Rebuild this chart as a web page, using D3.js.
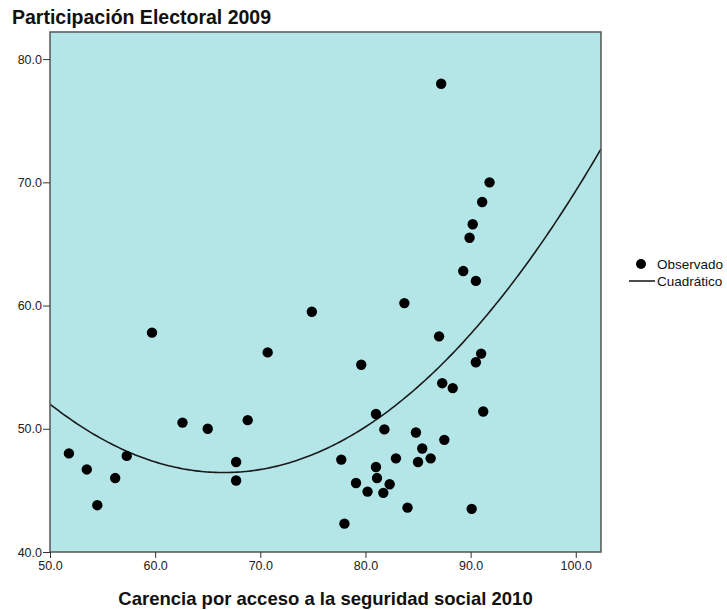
<!DOCTYPE html>
<html><head><meta charset="utf-8">
<script src="https://cdn.jsdelivr.net/npm/d3@7"></script>
<style>body{margin:0;background:#fff}svg{display:block}</style>
</head><body>
<svg id="chart" width="727" height="610"></svg>
<script>
const xValues = [51.8,53.5,54.5,56.2,57.3,59.7,62.6,65.0,67.7,67.7,68.8,70.7,74.9,77.7,78.0,79.1,79.6,80.2,81.0,81.0,81.1,81.7,81.8,82.3,82.9,83.7,84.0,84.8,85.0,85.4,86.2,87.0,87.2,87.3,87.5,88.3,89.3,89.9,90.1,90.2,90.5,90.5,91.0,91.1,91.2,91.8];
const yValues = [48.0,46.7,43.8,46.0,47.8,57.8,50.5,50.0,47.3,45.8,50.7,56.2,59.5,47.5,42.3,45.6,55.2,44.9,51.2,46.9,46.0,44.8,49.95,45.5,47.6,60.2,43.6,49.7,47.3,48.4,47.6,57.5,78.0,53.7,49.1,53.3,62.8,65.5,43.5,66.6,62.0,55.4,56.1,68.4,51.4,70.0];
const fitCoefficients = [136.62, -2.7116, 0.020385]; // Cuadrático: b0 + b1*x + b2*x^2
const xTicks = [50,60,70,80,90,100];
const yTicks = [40,50,60,70,80];
const title = "Participación Electoral 2009";
const xLabel = "Carencia por acceso a la seguridad social 2010";
const legendLabels = ["Observado","Cuadrático"];

const svg = d3.select("#chart");
const L = 50, R = 601, T = 32, B = 552;
const x = d3.scaleLinear().domain([50, 102.4]).range([L, R]);
const y = d3.scaleLinear().domain([40, 82.2]).range([B, T]);
const font = "Arial, 'Liberation Sans', sans-serif";

svg.append("rect").attr("x", L).attr("y", T).attr("width", R - L).attr("height", B - T)
  .attr("fill", "#b4e6e8");

svg.append("clipPath").attr("id","pc").append("rect").attr("x",L).attr("y",T).attr("width",R-L).attr("height",B-T);
const xs = d3.range(0, 201).map(i => 50 + i * (102.4 - 50) / 200);
const line = d3.line().x(d => x(d)).y(d => y(fitCoefficients[0] + fitCoefficients[1]*d + fitCoefficients[2]*d*d));
svg.append("path").attr("d", line(xs)).attr("fill","none").attr("stroke","#1a1a1a")
  .attr("stroke-width",1.6).attr("clip-path","url(#pc)");

svg.append("g").selectAll("circle").data(xValues.map((v,i)=>[v,yValues[i]])).join("circle")
  .attr("cx", d => x(d[0])).attr("cy", d => y(d[1])).attr("r", 5.2).attr("fill","#000");

svg.append("rect").attr("x", L).attr("y", T).attr("width", R - L).attr("height", B - T)
  .attr("fill","none").attr("stroke","#555").attr("stroke-width",1.5);

const xAxis = d3.axisBottom(x).tickValues(xTicks).tickFormat(d3.format(".1f")).tickSize(6).tickSizeOuter(0);
const gx = svg.append("g").attr("transform",`translate(0,${B})`).call(xAxis);
gx.select(".domain").remove();
gx.selectAll("line").attr("stroke","#333");
gx.selectAll("text").attr("font-family",font).attr("font-size",12.5).attr("fill","#222").attr("y",9).attr("dy","0.71em");

const yAxis = d3.axisLeft(y).tickValues(yTicks).tickFormat(d3.format(".1f")).tickSize(7).tickSizeOuter(0);
const gy = svg.append("g").attr("transform",`translate(${L},0)`).call(yAxis);
gy.select(".domain").remove();
gy.selectAll("line").attr("stroke","#333");
gy.selectAll("text").attr("font-family",font).attr("font-size",12.5).attr("fill","#222").attr("x",-8);

svg.append("text").attr("x",12).attr("y",24).attr("font-family",font).attr("font-size",19.5)
  .attr("font-weight","bold").attr("fill","#111").text(title);
svg.append("text").attr("x",325.5).attr("y",605).attr("text-anchor","middle")
  .attr("font-family",font).attr("font-size",18.5).attr("font-weight","bold").attr("fill","#111").text(xLabel);

const lg = svg.append("g");
lg.append("circle").attr("cx",641).attr("cy",264).attr("r",5).attr("fill","#000");
lg.append("text").attr("x",657).attr("y",269).attr("font-family",font).attr("font-size",13.5).attr("fill","#111").text(legendLabels[0]);
lg.append("line").attr("x1",629).attr("x2",655).attr("y1",281).attr("y2",281).attr("stroke","#111").attr("stroke-width",1.5);
lg.append("text").attr("x",657).attr("y",286).attr("font-family",font).attr("font-size",13.5).attr("fill","#111").text(legendLabels[1]);
</script>
</body></html>
